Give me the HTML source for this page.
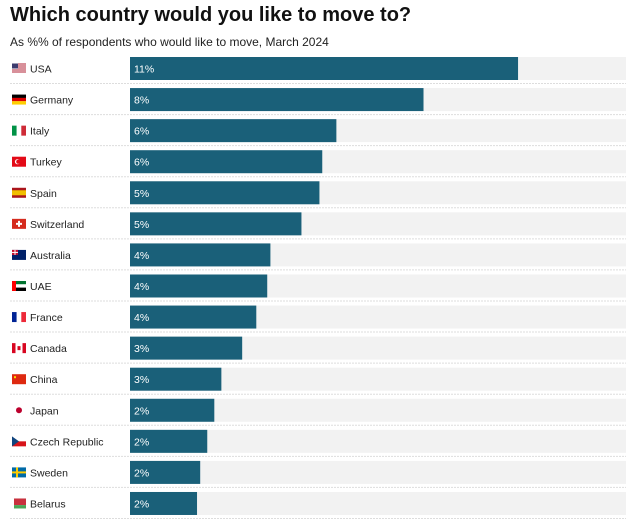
<!DOCTYPE html>
<html><head><meta charset="utf-8"><style>
body{margin:0;background:#fff;font-family:"Liberation Sans",Arial,sans-serif;width:633px;height:520px;overflow:hidden;position:relative}
h1{position:absolute;left:10px;top:4px;margin:0;font-size:20px;font-weight:bold;color:#111}
.sub{position:absolute;left:10px;top:35px;font-size:12px;color:#222}
</style></head><body>
<h1>Which country would you like to move to?</h1>
<div class="sub">As %% of respondents who would like to move, March 2024</div>
<svg id="c" width="633" height="520" style="position:absolute;left:0;top:0"></svg>
<script>
const countries=["USA","Germany","Italy","Turkey","Spain","Switzerland","Australia","UAE","France","Canada","China","Japan","Czech Republic","Sweden","Belarus"];
const values=[11.0,8.32,5.85,5.45,5.37,4.86,3.98,3.89,3.58,3.18,2.59,2.39,2.19,1.99,1.9];
const labels=["11%","8%","6%","6%","5%","5%","4%","4%","4%","3%","3%","2%","2%","2%","2%"];
const maxV=14.06;
const svg=document.getElementById('c');
const NS="http://www.w3.org/2000/svg";
const x0=130,x1=626,top0=57,step=31.07,bh=23;
const xs=v=>x0+(v/maxV)*(x1-x0);
function mk(t,a,p){const e=document.createElementNS(NS,t);for(const k in a)e.setAttribute(k,a[k]);(p||svg).appendChild(e);return e;}
function flag(g,name,x,y){
 const w=14,h=10;
 const r=(xx,yy,ww,hh,f)=>mk('rect',{x:x+xx,y:y+yy,width:ww,height:hh,fill:f},g);
 switch(name){
 case"USA":r(0,0,w,h,"#fff");for(let i=0;i<5;i++)r(0,i*2,w,1,"#b22234");r(0,0,6,5,"#3c3b6e");break;
 case"Germany":r(0,0,w,3.4,"#000");r(0,3.3,w,3.4,"#d00");r(0,6.6,w,3.4,"#ffce00");break;
 case"Italy":r(0,0,4.7,h,"#009246");r(4.7,0,4.7,h,"#fff");r(9.3,0,4.7,h,"#ce2b37");break;
 case"Turkey":r(0,0,w,h,"#e30a17");mk('circle',{cx:x+5.5,cy:y+5,r:2.6,fill:"#fff"},g);mk('circle',{cx:x+6.3,cy:y+5,r:2.1,fill:"#e30a17"},g);break;
 case"Spain":r(0,0,w,h,"#aa151b");r(0,2.5,w,5,"#f1bf00");break;
 case"Switzerland":r(0,0,w,h,"#d52b1e");r(6,2,2,6,"#fff");r(4,4,6,2,"#fff");break;
 case"Australia":r(0,0,w,h,"#012169");r(0,0,6,5,"#c8102e");r(0,2,6,1,"#fff");r(2.5,0,1,5,"#fff");break;
 case"UAE":r(0,0,w,3.4,"#00732f");r(0,3.3,w,3.4,"#fff");r(0,6.6,w,3.4,"#000");r(0,0,4,h,"#ff0000");break;
 case"France":r(0,0,4.7,h,"#002395");r(4.7,0,4.7,h,"#fff");r(9.3,0,4.7,h,"#ed2939");break;
 case"Canada":r(0,0,w,h,"#fff");r(0,0,3.5,h,"#d80621");r(10.5,0,3.5,h,"#d80621");r(5.5,3,3,4,"#d80621");break;
 case"China":r(0,0,w,h,"#de2910");r(2,2,2,2,"#ffde00");break;
 case"Japan":r(0,0,w,h,"#fff");mk('circle',{cx:x+7,cy:y+5,r:3,fill:"#bc002d"},g);break;
 case"Czech Republic":r(0,0,w,5,"#fff");r(0,5,w,5,"#d7141a");mk('polygon',{points:`${x},${y} ${x+7},${y+5} ${x},${y+10}`,fill:"#11457e"},g);break;
 case"Sweden":r(0,0,w,h,"#006aa7");r(0,4,w,2,"#fecc00");r(4,0,2,h,"#fecc00");break;
 case"Belarus":r(0,0,w,6.6,"#c8313e");r(0,6.6,w,3.4,"#4aa657");r(0,0,2,h,"#fff");break;
 }
}
countries.forEach((c,i)=>{
 const y=top0+i*step;
 const g=mk('g',{});
 
 
 const tr=mk('rect',{x:x0,y:y,width:x1-x0,height:bh,fill:"#f2f2f2"},g);
 
 
 const b=mk('rect',{x:x0,y:y,width:xs(values[i])-x0,height:bh,fill:"#1a6079"},g);
 
 
 const vl=mk('text',{x:x0+4,y:y+15.5,fill:"#fff","font-size":"10.5"},g);vl.textContent=labels[i];
 
 
 const fg=mk('g',{},g);
 
 
 flag(fg,c,12,y+6.5);
 const cl=mk('text',{x:30,y:y+15.5,fill:"#222","font-size":"10.5"},g);cl.textContent=c;
 
 
 const ln=mk('line',{x1:10,x2:x1,y1:y+bh+3.5,y2:y+bh+3.5,stroke:"#ddd","stroke-dasharray":"2,1"},g);
 
 
});
</script>
</body></html>
